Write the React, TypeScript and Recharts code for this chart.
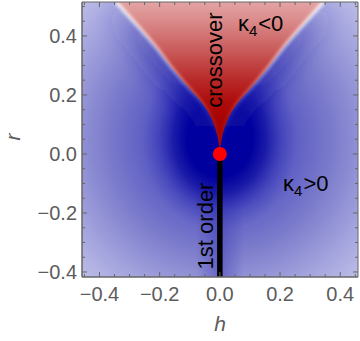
import React from 'react';
import { ComposedChart, XAxis, YAxis, Area, Line, Scatter, ReferenceArea } from 'recharts';

// ---- domains ----
const H_DOMAIN: [number, number] = [-0.458, 0.459];
const R_DOMAIN: [number, number] = [-0.417, 0.515];

// ---- crossover boundary (kappa4 = 0 line) ----
const crossoverH = [-0.345, -0.27, -0.215, -0.16, -0.095, -0.065, -0.042, -0.025, -0.008, 0, 0.008, 0.025, 0.042, 0.065, 0.095, 0.16, 0.215, 0.27, 0.345];
const crossoverR = [0.515, 0.43, 0.365, 0.292, 0.214, 0.18, 0.147, 0.113, 0.06, 0.02, 0.06, 0.113, 0.147, 0.18, 0.214, 0.292, 0.365, 0.43, 0.515];

// ---- first order line and critical point ----
const firstOrderH = [0, 0];
const firstOrderR = [-0.417, 0];
const criticalH = [0];
const criticalR = [0];

// ---- ticks ----
const xTickValues = [-0.45, -0.4, -0.35, -0.3, -0.25, -0.2, -0.15, -0.1, -0.05, 0, 0.05, 0.1, 0.15, 0.2, 0.25, 0.3, 0.35, 0.4, 0.45];
const xMajorValues = [-0.4, -0.2, 0, 0.2, 0.4];
const xMajorLabels = ['\u22120.4', '\u22120.2', '0.0', '0.2', '0.4'];
const yTickValues = [-0.4, -0.35, -0.3, -0.25, -0.2, -0.15, -0.1, -0.05, 0, 0.05, 0.1, 0.15, 0.2, 0.25, 0.3, 0.35, 0.4, 0.45, 0.5];
const yMajorValues = [-0.4, -0.2, 0, 0.2, 0.4];
const yMajorLabels = ['\u22120.4', '\u22120.2', '0.0', '0.2', '0.4'];

// ---- annotations ----
const annotationH = [0.008, -0.023, 0.06, 0.21];
const annotationR = [0.318, -0.244, 0.417, -0.126];
const annotationText = ['crossover', '1st order', '\u03BA', '\u03BA'];
const annotationSub = ['', '', '4', '4'];
const annotationRest = ['', '', '<0', '>0'];
const annotationRotated = [true, true, false, false];

// ---- build tables ----
const wedgeData = crossoverH.map((h, i) => ({ h, lo: crossoverR[i], range: [crossoverR[i], R_DOMAIN[1]] }));
const firstOrderData = firstOrderH.map((h, i) => ({ h, r: firstOrderR[i] }));
const criticalData = criticalH.map((h, i) => ({ h, r: criticalR[i] }));
const annotationData = annotationH.map((h, i) => ({
  h,
  r: annotationR[i],
  text: annotationText[i],
  sub: annotationSub[i],
  rest: annotationRest[i],
  rotated: annotationRotated[i],
}));

const FONT = '"Liberation Sans", Arial, Helvetica, sans-serif';
const FRAME = '#666666';
const LABEL = '#5c5c5c';
const PLOT_TOP = 2;
const PLOT_RIGHT = 358;

function findMajor(v: number, majors: number[]) {
  return majors.findIndex((m) => Math.abs(m - v) < 1e-6);
}

function XTick(props: any) {
  const { x, y, payload } = props;
  const idx = findMajor(payload.value, xMajorValues);
  const len = idx >= 0 ? 5 : 3;
  return (
    <g>
      <line x1={x} x2={x} y1={y} y2={y - len} stroke={FRAME} strokeWidth={1} />
      <line x1={x} x2={x} y1={PLOT_TOP} y2={PLOT_TOP + len} stroke={FRAME} strokeWidth={1} />
      {idx >= 0 && (
        <text x={x} y={y + 24} textAnchor="middle" fontFamily={FONT} fontSize={20} fill={LABEL}>
          {xMajorLabels[idx]}
        </text>
      )}
    </g>
  );
}

function YTick(props: any) {
  const { x, y, payload } = props;
  const idx = findMajor(payload.value, yMajorValues);
  const len = idx >= 0 ? 5 : 3;
  return (
    <g>
      <line x1={x} x2={x + len} y1={y} y2={y} stroke={FRAME} strokeWidth={1} />
      <line x1={PLOT_RIGHT} x2={PLOT_RIGHT - len} y1={y} y2={y} stroke={FRAME} strokeWidth={1} />
      {idx >= 0 && (
        <text x={x - 5} y={y + 7} textAnchor="end" fontFamily={FONT} fontSize={20} fill={LABEL}>
          {yMajorLabels[idx]}
        </text>
      )}
    </g>
  );
}

function AnnotationShape(props: any) {
  const { cx, cy, payload } = props;
  if (cx == null || cy == null) return null;
  if (payload.rotated) {
    return (
      <text
        x={cx}
        y={cy}
        textAnchor="middle"
        transform={`rotate(-90, ${cx}, ${cy})`}
        fontFamily={FONT}
        fontSize={22}
        fill="#000"
      >
        {payload.text}
      </text>
    );
  }
  return (
    <text x={cx} y={cy} fontFamily={FONT} fontSize={22} fill="#000">
      <tspan>{payload.text}</tspan>
      <tspan dy={5} fontSize={15}>{payload.sub}</tspan>
      <tspan dy={-5} dx={1}>{payload.rest}</tspan>
    </text>
  );
}

function DotShape(props: any) {
  const { cx, cy } = props;
  if (cx == null || cy == null) return null;
  return <circle cx={cx} cy={cy} r={7} fill="#ff0000" />;
}

function NoShape() {
  return null;
}

export default function App() {
  return (
    <div style={{ position: 'fixed', left: 0, top: 0, width: 360, height: 341, background: '#fff' }}>
      <ComposedChart
        width={360}
        height={341}
        data={wedgeData}
        margin={{ top: PLOT_TOP, right: 360 - PLOT_RIGHT, bottom: 0, left: 0 }}
      >
        <defs>
          <radialGradient id="bgGrad" cx="0.5" cy="0.5" r="0.75">
            <stop offset="0" stopColor="#3434b6" />
            <stop offset="0.3" stopColor="#5454c2" />
            <stop offset="0.55" stopColor="#7c7ccc" />
            <stop offset="0.78" stopColor="#a4a4de" />
            <stop offset="1" stopColor="#c6c6ec" />
          </radialGradient>
          <radialGradient id="coreGrad" cx="0.5" cy="0.5" r="0.5">
            <stop offset="0" stopColor="#00009e" stopOpacity={1} />
            <stop offset="0.42" stopColor="#00009e" stopOpacity={1} />
            <stop offset="0.6" stopColor="#0c0ca2" stopOpacity={0.75} />
            <stop offset="0.8" stopColor="#2424ae" stopOpacity={0.3} />
            <stop offset="1" stopColor="#3a3ab8" stopOpacity={0} />
          </radialGradient>
          <linearGradient id="lineBandGrad" x1="0" y1="0" x2="1" y2="0">
            <stop offset="0" stopColor="#3434b2" stopOpacity={0} />
            <stop offset="0.5" stopColor="#3434b2" stopOpacity={0.45} />
            <stop offset="1" stopColor="#3434b2" stopOpacity={0} />
          </linearGradient>
          <linearGradient id="bandGrad" x1="0" y1="0" x2="0" y2="1">
            <stop offset="0" stopColor="#3030b0" stopOpacity={0} />
            <stop offset="0.3" stopColor="#2c2cae" stopOpacity={0.35} />
            <stop offset="0.65" stopColor="#1414a8" stopOpacity={0.65} />
            <stop offset="1" stopColor="#00009e" stopOpacity={0.9} />
          </linearGradient>
          <linearGradient id="wedgeGrad" x1="0" y1="0" x2="0" y2="1">
            <stop offset="0" stopColor="#e4a4a4" />
            <stop offset="0.13" stopColor="#da8a8a" />
            <stop offset="0.35" stopColor="#c85656" />
            <stop offset="0.52" stopColor="#ba2c2c" />
            <stop offset="0.68" stopColor="#ae0c0c" />
            <stop offset="0.82" stopColor="#a80202" />
            <stop offset="1" stopColor="#a40000" />
          </linearGradient>
          <linearGradient id="glowGrad" x1="0" y1="0" x2="0" y2="1">
            <stop offset="0" stopColor="#ffffff" stopOpacity={0.75} />
            <stop offset="0.4" stopColor="#ffffff" stopOpacity={0.45} />
            <stop offset="0.75" stopColor="#ffffff" stopOpacity={0.1} />
            <stop offset="1" stopColor="#ffffff" stopOpacity={0} />
          </linearGradient>
          <filter id="blurBig" x="-50%" y="-50%" width="200%" height="200%">
            <feGaussianBlur stdDeviation="11" />
          </filter>
          <filter id="blurSmall" x="-20%" y="-20%" width="140%" height="140%">
            <feGaussianBlur stdDeviation="1.5" />
          </filter>
        </defs>

        <XAxis
          dataKey="h"
          type="number"
          domain={H_DOMAIN}
          allowDataOverflow
          ticks={xTickValues}
          interval={0}
          tickSize={0}
          tickMargin={0}
          height={64}
          stroke={FRAME}
          axisLine={{ stroke: FRAME }}
          tick={<XTick />}
        />
        <YAxis
          dataKey="r"
          type="number"
          domain={R_DOMAIN}
          allowDataOverflow
          ticks={yTickValues}
          interval={0}
          tickSize={0}
          tickMargin={0}
          width={82}
          stroke={FRAME}
          axisLine={{ stroke: FRAME }}
          tick={<YTick />}
        />

        <ReferenceArea x1={H_DOMAIN[0]} x2={H_DOMAIN[1]} y1={R_DOMAIN[0]} y2={R_DOMAIN[1]} fill="url(#bgGrad)" fillOpacity={1} stroke="none" zIndex={1} />
        <ReferenceArea x1={-0.08} x2={0.08} y1={R_DOMAIN[0]} y2={0} fill="url(#lineBandGrad)" fillOpacity={1} stroke="none" zIndex={2} />
        <ReferenceArea x1={-0.26} x2={0.26} y1={-0.26} y2={0.36} fill="url(#coreGrad)" fillOpacity={1} stroke="none" zIndex={3} />

        <Line
          dataKey="lo"
          type="monotone"
          stroke="url(#bandGrad)"
          strokeWidth={36}
          dot={false}
          activeDot={false}
          filter="url(#blurBig)"
          isAnimationActive={false}
          zIndex={4}
        />
        <Area
          dataKey="range"
          type="monotone"
          fill="url(#wedgeGrad)"
          fillOpacity={1}
          stroke="none"
          dot={false}
          activeDot={false}
          isAnimationActive={false}
          zIndex={5}
        />
        <Line
          dataKey="lo"
          type="monotone"
          stroke="url(#glowGrad)"
          strokeWidth={4}
          dot={false}
          activeDot={false}
          filter="url(#blurSmall)"
          isAnimationActive={false}
          zIndex={6}
        />

        <Scatter
          data={firstOrderData}
          line={{ stroke: '#000000', strokeWidth: 5.5 }}
          shape={<NoShape />}
          isAnimationActive={false}
          zIndex={7}
        />
        <Scatter data={criticalData} shape={<DotShape />} isAnimationActive={false} zIndex={8} />
        <Scatter data={annotationData} shape={<AnnotationShape />} isAnimationActive={false} zIndex={9} />

        <ReferenceArea x1={H_DOMAIN[0]} x2={H_DOMAIN[1]} y1={R_DOMAIN[0]} y2={R_DOMAIN[1]} fill="none" stroke={FRAME} strokeWidth={1} zIndex={10} />

        <text x={220} y={331} textAnchor="middle" fontFamily={FONT} fontSize={21} fontStyle="italic" fill={LABEL}>
          h
        </text>
        <text x={20} y={137} textAnchor="middle" transform="rotate(-90, 20, 137)" fontFamily={FONT} fontSize={21} fontStyle="italic" fill={LABEL}>
          r
        </text>
      </ComposedChart>
    </div>
  );
}
